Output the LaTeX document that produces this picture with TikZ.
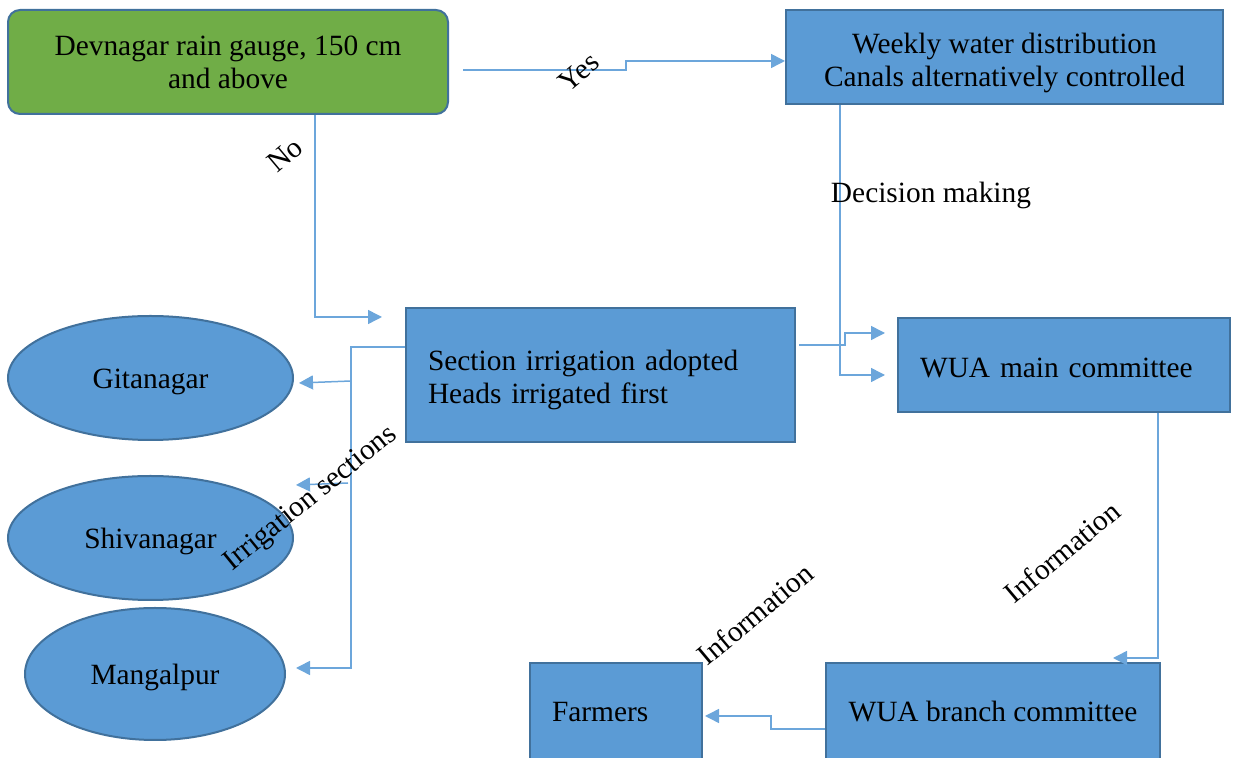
\documentclass[tikz,border=0pt]{standalone}
\usepackage{fontspec}
\setmainfont{Liberation Serif}
\usetikzlibrary{arrows.meta}
\usetikzlibrary{positioning}
\usetikzlibrary{calc}
\usetikzlibrary{shapes.geometric}
\definecolor{boxblue}{HTML}{5B9BD5}
\definecolor{edgeblue}{HTML}{41719C}
\definecolor{boxgreen}{HTML}{70AD47}
\definecolor{lineblue}{HTML}{6CA6DB}

\tikzset{
  box/.style={draw=edgeblue, line width=1pt, fill=boxblue, inner sep=0pt, align=center},
  leftbox/.style={box, align=left, inner xsep=11pt},
  oneline/.style={text height=10pt, text depth=0pt},
  place/.style={draw=edgeblue, line width=1pt, fill=boxblue, ellipse, inner sep=0pt, text height=11pt, text depth=0pt},
  flow/.style={draw=lineblue, line width=0.75pt, -{Triangle[length=7pt,width=7pt]}},
  tag/.style={inner sep=0pt, rotate=40}
}

\begin{document}
\begin{tikzpicture}[x=0.5pt, y=-0.5pt, font=\fontsize{14.7}{16.5}\selectfont]
			\useasboundingbox (0,0) rectangle (1233,758);
			% draw boxes
			\node[box, fill=boxgreen, rounded corners=6pt, minimum width=220pt, minimum height=52pt] (rain) at (228,62) {Devnagar rain gauge, 150 cm\\and above};
			\node[box, text height=32.5pt, text depth=3.2pt, minimum width=218.5pt, minimum height=47pt] (weekly) at (1004.5,57) {Weekly water distribution\\Canals alternatively controlled};
			\node[leftbox, text height=15pt, text depth=19.7pt, text width=172.5pt, minimum height=67pt] (section) at (600.5,375) {Section irrigation adopted\\Heads irrigated first};
			\node[leftbox, text height=13pt, text depth=0pt, text width=144pt, minimum height=47pt] (wuamain) at (1064,365) {WUA main committee};
			\node[leftbox, oneline, text width=64pt, minimum height=49pt] (farmers) at (616,712) {Farmers};
			\node[box, oneline, minimum width=167pt, minimum height=49pt] (branch) at (993,712) {WUA branch committee};
			% draw villages
			\node[place, minimum width=142.5pt, minimum height=62pt] (git) at (150.5,378) {Gitanagar};
			\node[place, minimum width=142.5pt, minimum height=62pt] (shiv) at (150.5,538) {Shivanagar};
			\node[place, minimum width=130pt, minimum height=66pt] (mang) at (155,674) {Mangalpur};
			
			% add arrows
			\draw[flow] ($(rain.east)+(14,8)$) -- ++(163,0) |- ($(weekly.west)+(0,4)$);
			\draw[flow] ($(rain.south)+(87,0)$) |- ($(section.west)+(-23,-58)$);
			\draw[flow] ($(weekly.south)+(-164.5,0)$) |- ($(wuamain.west)+(-12,10)$);
			\draw[flow] ($(section.east)+(3,-30)$) -- ++(46,0) |- ($(wuamain.west)+(-12,-32)$);
			\coordinate (split) at ($(section.west)+(-54,-28)$);
			\draw[flow] ($(section.west)+(0,-28)$) -- (split) |- ($(mang.east)+(10,-6)$);
			\draw[flow] ($(split |- git.east)+(0,3)$) -- ($(git.east)+(5,5)$);
			\draw[flow] ($(shiv.east)+(54,-55)$) -- ($(shiv.east)+(2,-53)$);
			\draw[flow] ($(wuamain.south)+(94,0)$) |- ($(branch.north)+(120,-4)$);
			\draw[flow] ($(branch.west)+(0,17)$) -- ++(-54,0) |- ($(farmers.east)+(2,4)$);
			
			% add labels
			\node[tag] (yes) at (579,72) {Yes};
			\node[tag] (no) at (285,155) {No};
			\node[inner sep=0pt] (decide) at (931,195) {Decision making};
			\node[tag, rotate=-1] (sections) at (311,499) {Irrigation sections};
			\node[tag] (inforight) at (1062,552) {Information};
			\node[tag] (infoleft) at (755,614) {Information};
		\end{tikzpicture}
\end{document}
